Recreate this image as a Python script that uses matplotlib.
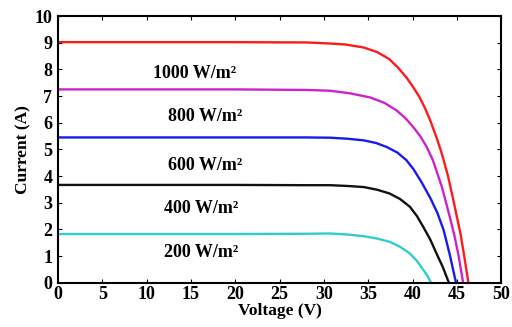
import matplotlib
matplotlib.use("Agg")
import matplotlib.pyplot as plt

# I-V curves (voltage in V, current in A)
v_1000 = [0, 10, 20, 28, 30.7, 32.5, 34.5, 36.0, 37.4, 38.4, 39.3, 40.1, 40.8, 41.4,
          42.0, 42.7, 43.3, 44.0, 44.6, 45.0, 45.4, 45.8, 46.3]
i_1000 = [9.02, 9.02, 9.02, 9.01, 8.97, 8.93, 8.82, 8.65, 8.38, 8.05, 7.70, 7.32, 6.95, 6.55,
          6.08, 5.45, 4.84, 4.00, 3.10, 2.47, 1.85, 1.05, 0.0]

v_800 = [0, 10, 20, 28, 30.7, 33.0, 35.2, 36.8, 38.2, 39.2, 40.1, 40.9, 41.6, 42.3,
         43.3, 44.2, 44.7, 45.2, 45.7]
i_800 = [7.25, 7.25, 7.25, 7.23, 7.20, 7.10, 6.95, 6.75, 6.46, 6.17, 5.83, 5.48, 5.09, 4.59,
         3.60, 2.47, 1.80, 1.00, 0.0]

v_600 = [0, 10, 20, 28, 30.7, 32.7, 34.5, 35.9, 37.1, 38.3, 39.3, 40.1, 41.0, 42.0,
         42.8, 43.5, 44.2, 44.9]
i_600 = [5.45, 5.45, 5.45, 5.45, 5.44, 5.40, 5.34, 5.24, 5.09, 4.88, 4.60, 4.26, 3.78, 3.18,
         2.62, 1.98, 1.05, 0.0]

v_400 = [0, 10, 20, 28, 30.7, 32.7, 34.5, 36.0, 37.4, 38.6, 39.7, 40.5, 41.2, 42.0,
         42.7, 43.4, 44.1]
i_400 = [3.67, 3.67, 3.67, 3.66, 3.66, 3.63, 3.59, 3.49, 3.35, 3.14, 2.85, 2.50, 2.10, 1.62,
         1.10, 0.60, 0.0]

v_200 = [0, 10, 20, 28, 30.7, 32.7, 34.5, 36.0, 37.4, 38.6, 39.7, 40.5, 41.2, 41.7, 42.1]
i_200 = [1.83, 1.83, 1.83, 1.84, 1.85, 1.81, 1.75, 1.66, 1.54, 1.35, 1.10, 0.82, 0.49, 0.25, 0.0]

labels = ["1000 W/m²", "800 W/m²", "600 W/m²", "400 W/m²", "200 W/m²"]
label_x = [15.4, 16.6, 16.6, 16.1, 16.1]
label_y = [7.85, 6.25, 4.40, 2.80, 1.12]

series = [(v_1000, i_1000, "#ff1a1a"),
          (v_800, i_800, "#cc22cc"),
          (v_600, i_600, "#1a1aee"),
          (v_400, i_400, "#111111"),
          (v_200, i_200, "#33cccc")]

plt.rcParams["font.family"] = ["Liberation Serif", "DejaVu Serif"]
plt.rcParams["font.weight"] = "bold"

fig = plt.figure(figsize=(5.12, 3.27), dpi=100)
ax = fig.add_axes([0.113, 0.135, 0.866, 0.816])

for v, i, c in series:
    ax.plot(v, i, color=c, linewidth=1.7, solid_joinstyle="round")

for txt, x, y in zip(labels, label_x, label_y):
    ax.text(x, y, txt, ha="center", va="center", fontsize=13, fontweight="bold")

ax.set_xlim(0, 50)
ax.set_ylim(0, 10)
ax.set_xticks(range(0, 51, 5))
ax.set_yticks(range(0, 11, 1))
ax.tick_params(direction="in", top=True, right=True, length=3, width=0.8,
               labelsize=13)
ax.tick_params(axis="x", pad=2)
ax.tick_params(axis="y", pad=4)
for lbl in ax.get_xticklabels() + ax.get_yticklabels():
    lbl.set_fontweight("bold")
for s in ax.spines.values():
    s.set_linewidth(1.5)

ax.set_xlabel("Voltage (V)", fontsize=12.5, fontweight="bold", labelpad=0)
ax.set_ylabel("Current (A)", fontsize=12.5, fontweight="bold", labelpad=2)

fig.savefig("out.png", dpi=100)
plt.close(fig)
